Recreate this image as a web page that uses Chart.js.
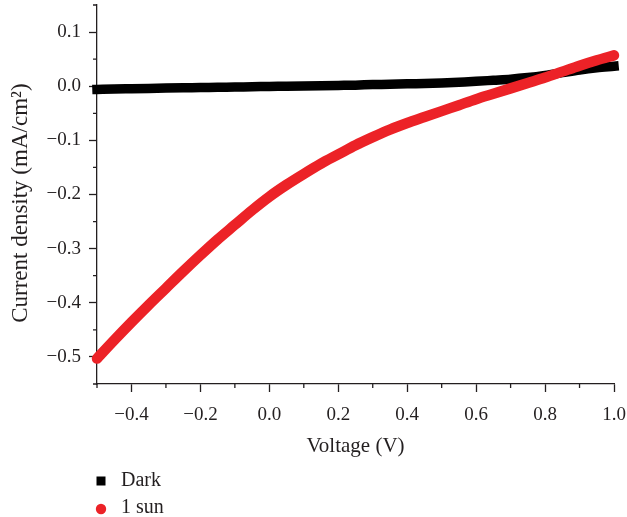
<!DOCTYPE html>
<html><head><meta charset="utf-8">
<script src="https://cdn.jsdelivr.net/npm/chart.js@4.4.1/dist/chart.umd.min.js"></script>
<style>html,body{margin:0;padding:0;background:#fff}#wrap{width:627px;height:517px}</style>
</head><body><div id="wrap"><canvas id="c" width="627" height="517"></canvas></div>
<script>
const voltage = [-0.50,-0.45,-0.40,-0.35,-0.30,-0.25,-0.20,-0.15,-0.10,-0.05,0.00,0.05,0.10,0.15,0.20,0.25,0.30,0.35,0.40,0.45,0.50,0.55,0.60,0.65,0.70,0.75,0.80,0.85,0.90,0.95,1.00];
const darkCurrent = [-0.006,-0.005,-0.0045,-0.004,-0.0035,-0.003,-0.0025,-0.002,-0.0015,-0.001,-0.0005,0.000,0.0005,0.001,0.0015,0.002,0.003,0.0035,0.0045,0.005,0.006,0.0075,0.009,0.011,0.013,0.016,0.020,0.025,0.030,0.034,0.037];
const sunCurrent = [-0.503,-0.469,-0.436,-0.404,-0.373,-0.342,-0.312,-0.283,-0.256,-0.229,-0.204,-0.182,-0.162,-0.143,-0.126,-0.109,-0.094,-0.080,-0.068,-0.057,-0.046,-0.035,-0.024,-0.014,-0.004,0.006,0.016,0.027,0.038,0.048,0.057];
const seriesNames = ['Dark', '1 sun'];
const xTickValues = [-0.4,-0.2,0.0,0.2,0.4,0.6,0.8,1.0];
const xTickLabels = ['\u22120.4','\u22120.2','0.0','0.2','0.4','0.6','0.8','1.0'];
const xMinorTicks = [-0.5,-0.3,-0.1,0.1,0.3,0.5,0.7,0.9];
const yTickValues = [-0.5,-0.4,-0.3,-0.2,-0.1,0.0,0.1];
const yTickLabels = ['\u22120.5','\u22120.4','\u22120.3','\u22120.2','\u22120.1','0.0','0.1'];
const yMinorTicks = [-0.55,-0.45,-0.35,-0.25,-0.15,-0.05,0.05,0.15];
const xTitle = 'Voltage (V)';
const yTitle = 'Current density (mA/cm\u00B2)   ';

const FONT = '"Liberation Serif", "Times New Roman", serif';
const INK = '#231f20';

const minorTicks = {
  id: 'minorTicks',
  afterDraw(chart) {
    const ctx = chart.ctx, xs = chart.scales.x, ys = chart.scales.y;
    ctx.save();
    ctx.strokeStyle = INK; ctx.lineWidth = 1.3;
    ctx.beginPath();
    xMinorTicks.forEach(v => { const p = xs.getPixelForValue(v); ctx.moveTo(p, xs.top); ctx.lineTo(p, xs.top + 4); });
    yMinorTicks.forEach(v => { const p = ys.getPixelForValue(v); ctx.moveTo(ys.right, p); ctx.lineTo(ys.right - 4, p); });
    ctx.stroke();
    ctx.restore();
  }
};

const bottomLegend = {
  id: 'bottomLegend',
  afterDraw(chart) {
    const ctx = chart.ctx, a = chart.chartArea;
    ctx.save();
    ctx.font = '20px ' + FONT;
    ctx.textBaseline = 'middle';
    ctx.textAlign = 'left';
    chart.data.datasets.forEach((ds, i) => {
      const cy = a.bottom + 97 + i * 27;
      const cx = a.left + 4;
      ctx.fillStyle = ds.borderColor;
      if (ds.pointStyle === 'rect') {
        ctx.fillRect(cx - 4.5, cy - 4.5, 9, 9);
      } else {
        ctx.beginPath(); ctx.arc(cx, cy + 1, 5.2, 0, Math.PI * 2); ctx.fill();
      }
      ctx.fillStyle = INK;
      ctx.fillText(ds.label, a.left + 24, cy);
    });
    ctx.restore();
  }
};

new Chart(document.getElementById('c'), {
  type: 'line',
  data: {
    datasets: [
      {
        label: seriesNames[0],
        data: voltage.map((v, i) => ({x: v, y: darkCurrent[i]})),
        borderColor: '#000000', backgroundColor: '#000000',
        borderWidth: 9.5, pointRadius: 0, borderCapStyle: 'square',
        cubicInterpolationMode: 'monotone', clip: false, order: 1, pointStyle: 'rect'
      },
      {
        label: seriesNames[1],
        data: voltage.map((v, i) => ({x: v, y: sunCurrent[i]})),
        borderColor: '#ec2227', backgroundColor: '#ec2227',
        borderWidth: 10.5, pointRadius: 0, borderCapStyle: 'round', borderJoinStyle: 'round',
        cubicInterpolationMode: 'monotone', clip: false, order: 0, pointStyle: 'circle'
      }
    ]
  },
  options: {
    responsive: false, devicePixelRatio: 1, animation: false,
    layout: {padding: {left: 0, right: 13, top: 5, bottom: 58}},
    plugins: {legend: {display: false}, tooltip: {enabled: false}},
    scales: {
      x: {
        type: 'linear', min: -0.5, max: 1.0,
        afterBuildTicks: s => { s.ticks = xTickValues.map(v => ({value: v})); },
        afterFit: s => { s.height = 75; s.paddingLeft = 0; s.paddingRight = 0; },
        ticks: {callback: (v, i) => xTickLabels[i], font: {family: FONT, size: 19}, color: INK, padding: 12, maxRotation: 0, autoSkip: false},
        grid: {display: true, drawOnChartArea: false, drawTicks: true, tickLength: 8, tickWidth: 1.3, tickColor: INK},
        border: {display: true, color: INK, width: 1.3},
        title: {display: true, text: xTitle, font: {family: FONT, size: 21}, color: INK, padding: {top: 0, bottom: 0}}
      },
      y: {
        type: 'linear', min: -0.55, max: 0.15,
        afterBuildTicks: s => { s.ticks = yTickValues.map(v => ({value: v})); },
        afterFit: s => { s.width = 97; s.paddingTop = 0; s.paddingBottom = 0; },
        ticks: {callback: (v, i) => yTickLabels[i], font: {family: FONT, size: 19}, color: INK, padding: 8, autoSkip: false},
        grid: {display: true, drawOnChartArea: false, drawTicks: true, tickLength: 8, tickWidth: 1.3, tickColor: INK},
        border: {display: true, color: INK, width: 1.3},
        title: {display: true, text: yTitle, font: {family: FONT, size: 23}, color: INK, padding: {top: 7, bottom: 0}}
      }
    }
  },
  plugins: [minorTicks, bottomLegend]
});
</script>
</body></html>
